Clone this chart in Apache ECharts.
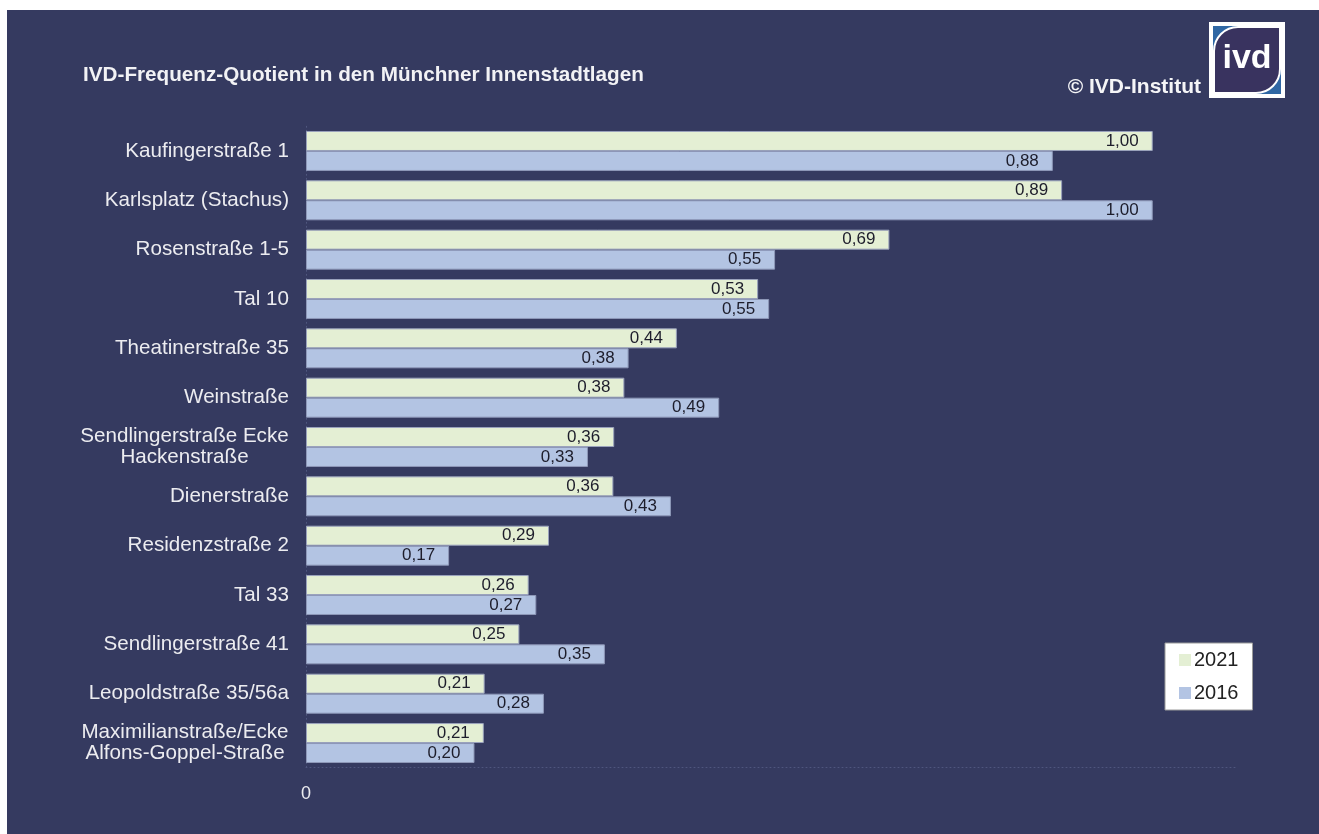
<!DOCTYPE html>
<html><head><meta charset="utf-8">
<script src="https://cdn.jsdelivr.net/npm/echarts@6/dist/echarts.min.js"></script>
<style>html,body{margin:0;padding:0;background:#fff}#c{width:1319px;height:834px}</style>
</head><body><div id="c"></div>
<script>
const categories = [
  'Kaufingerstraße 1',
  'Karlsplatz (Stachus)',
  'Rosenstraße 1-5',
  'Tal 10',
  'Theatinerstraße 35',
  'Weinstraße',
  'Sendlingerstraße Ecke\nHackenstraße',
  'Dienerstraße',
  'Residenzstraße 2',
  'Tal 33',
  'Sendlingerstraße 41',
  'Leopoldstraße 35/56a',
  'Maximilianstraße/Ecke\nAlfons-Goppel-Straße'
];
const values2021 = [1.000, 0.893, 0.689, 0.534, 0.438, 0.376, 0.364, 0.363, 0.287, 0.263, 0.252, 0.211, 0.210];
const values2016 = [0.882, 1.000, 0.554, 0.547, 0.381, 0.488, 0.333, 0.431, 0.169, 0.272, 0.353, 0.281, 0.199];
const seriesNames = ['2021', '2016'];
const xTickLabels = ['0'];

const FONT = '"Liberation Sans", Arial, sans-serif';
const NAVY = '#353A60';
const LABEL_COLOR = '#ECECF0';
const CAT_SIZE = 20.6;

const chart = echarts.init(document.getElementById('c'), null, {renderer: 'canvas'});

const measureCtx = document.createElement('canvas').getContext('2d');
measureCtx.font = CAT_SIZE + 'px ' + FONT;
function textWidth(s) { return Math.ceil(measureCtx.measureText(s).width); }

function valueLabel(p) {
  return p.value.toFixed(2).replace('.', ',');
}

const barLabel = {
  show: true,
  position: 'insideRight',
  distance: 14,
  color: '#1d1d2b',
  fontSize: 17,
  fontFamily: FONT,
  formatter: valueLabel
};

// rich styles for multi-line category labels (lines centred on each other)
const rich = {};
categories.forEach(function (c, i) {
  if (c.indexOf('\n') >= 0) {
    const w = Math.max.apply(null, c.split('\n').map(textWidth));
    rich['c' + i] = {width: w, align: 'center', fontSize: CAT_SIZE, fontFamily: FONT, color: LABEL_COLOR, lineHeight: 21};
  }
});

chart.setOption({
  backgroundColor: '#ffffff',
  animation: false,
  title: {
    text: 'IVD-Frequenz-Quotient in den Münchner Innenstadtlagen',
    left: 83,
    top: 64,
    padding: 0,
    textStyle: {color: '#F2F2F5', fontSize: 20.7, fontWeight: 'bold', fontFamily: FONT, lineHeight: 22}
  },
  graphic: [
    {type: 'rect', z: -10, shape: {x: 7, y: 10, width: 1312, height: 824}, style: {fill: NAVY}, silent: true},
    {type: 'text', x: 1201, y: 87, style: {text: '© IVD-Institut', fill: '#F5F5F7', font: 'bold 21px ' + FONT, textAlign: 'right', textVerticalAlign: 'middle'}},
    {type: 'rect', shape: {x: 1209, y: 22, width: 76, height: 76}, style: {fill: '#ffffff'}},
    {type: 'rect', shape: {x: 1213, y: 26, width: 68, height: 68}, style: {fill: '#2F67A4'}},
    {type: 'rect', shape: {x: 1214, y: 27, width: 66, height: 66, r: [24, 0, 24, 0]}, style: {fill: '#39335F', stroke: '#ffffff', lineWidth: 2}},
    {type: 'text', x: 1247, y: 59, style: {text: 'ivd', fill: '#ffffff', font: 'bold 34px ' + FONT, textAlign: 'center', textVerticalAlign: 'middle'}}
  ],
  legend: {
    data: seriesNames,
    orient: 'vertical',
    left: 1165,
    top: 643,
    backgroundColor: '#ffffff',
    borderColor: '#9a9a9a',
    borderWidth: 1,
    padding: [6, 14, 6, 14],
    itemWidth: 12,
    itemHeight: 12,
    itemGap: 11,
    icon: 'rect',
    itemStyle: {borderWidth: 0},
    textStyle: {fontSize: 20, color: '#222222', fontFamily: FONT, lineHeight: 22, padding: [0, 0, 0, -2]}
  },
  grid: {left: 306, top: 126.3, right: 81.6, bottom: 66.3, containLabel: false},
  xAxis: {
    type: 'value',
    min: 0,
    max: 1.1,
    interval: 1.1,
    axisLine: {show: true, lineStyle: {color: '#4F567E', type: [1, 3], width: 1}},
    axisTick: {show: false},
    splitLine: {show: false},
    axisLabel: {
      margin: 17,
      color: LABEL_COLOR,
      fontSize: 18,
      fontFamily: FONT,
      formatter: function (v) { return v === 0 ? xTickLabels[0] : ''; }
    }
  },
  yAxis: {
    type: 'category',
    inverse: true,
    data: categories,
    axisLine: {show: true, lineStyle: {color: '#4F567E', type: [1, 3], width: 1}},
    axisTick: {show: false},
    axisLabel: {
      margin: 17,
      color: LABEL_COLOR,
      fontSize: CAT_SIZE,
      fontFamily: FONT,
      lineHeight: 21,
      formatter: function (v, i) {
        if (v.indexOf('\n') >= 0) {
          return v.split('\n').map(function (s) { return '{c' + i + '|' + s + '}'; }).join('\n');
        }
        return v;
      },
      rich: rich
    }
  },
  series: [
    {
      name: seriesNames[0],
      type: 'bar',
      data: values2021,
      barGap: '0%',
      barCategoryGap: '19%',
      itemStyle: {color: '#E4EFD4', borderColor: '#9aa2bc', borderWidth: 1},
      label: barLabel
    },
    {
      name: seriesNames[1],
      type: 'bar',
      data: values2016,
      barGap: '0%',
      barCategoryGap: '19%',
      itemStyle: {color: '#B3C4E3', borderColor: '#8e98b8', borderWidth: 1},
      label: barLabel
    }
  ]
});
</script>
</body></html>
